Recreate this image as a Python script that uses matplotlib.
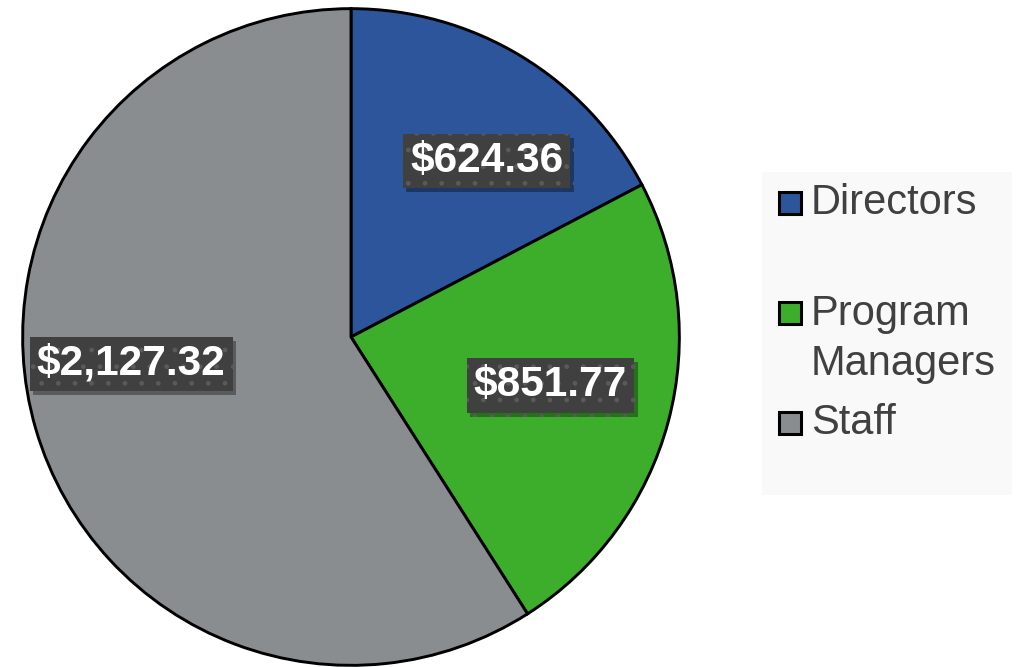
import numpy as np
import matplotlib.pyplot as plt
from matplotlib.patches import Rectangle
import matplotlib.patheffects as pe

# Data
labels = ["Directors", "Program\nManagers", "Staff"]
values = [624.36, 851.77, 2127.32]
colors = ["#2C559B", "#3DAE2B", "#8A8D8F"]

# Plot parameters
W, H = 1025, 667
fontl = 30.5
label_r = [0.68, 0.62, 0.67]      # radial position of value boxes
label_dang = [-6, 2, -10]         # angular nudge (deg) of value boxes

fig = plt.figure(figsize=(W/100, H/100), dpi=100)
fig.patch.set_facecolor("white")
ax = fig.add_axes([21/W, 0.0, 660/W, 660/H])

wedges, _ = ax.pie(values, colors=colors, startangle=90, counterclock=False,
                   radius=0.995,
                   wedgeprops=dict(edgecolor="black", linewidth=2.1))
ax.set_xlim(-1.0, 1.0)
ax.set_ylim(-1.0, 1.0)
ax.set_aspect("equal")
ax.axis("off")

# value labels in dark boxes
for w, v, r, da in zip(wedges, values, label_r, label_dang):
    ang = np.deg2rad(0.5*(w.theta1 + w.theta2) + da)
    t = ax.text(r*np.cos(ang), r*np.sin(ang) - 0.008, "${:,.2f}".format(v),
                ha="center", va="center", fontsize=fontl, fontweight="bold",
                color="white", family=["Liberation Sans", "DejaVu Sans"],
                bbox=dict(boxstyle="square,pad=0.17", facecolor="#404040",
                          edgecolor="#5a5a5a", linewidth=0, hatch="."))
    t.get_bbox_patch().set_path_effects([
        pe.SimplePatchShadow(offset=(2.5, -3), shadow_rgbFace="black", alpha=0.35),
        pe.Normal()])

# legend panel
fig.patches.append(Rectangle((762/W, (H-495)/H), 250/W, 323/H,
                             transform=fig.transFigure, facecolor="#F9F9F9",
                             edgecolor="none", zorder=0))
leg_y = [203, 339, 423]   # text centres (px from top)
mark_y = [203, 313, 423]  # marker centres (px from top)
for lab, c, y, my in zip(labels, colors, leg_y, mark_y):
    fig.patches.append(Rectangle((779/W, (H-my-11)/H), 22/W, 22/H,
                                 transform=fig.transFigure, facecolor=c,
                                 edgecolor="black", linewidth=2.2, zorder=2))
    fig.text(811/W, (H-y)/H, lab, ha="left", va="center",
             fontsize=30, color="#404040", linespacing=1.3,
             family=["Liberation Sans", "DejaVu Sans"])

fig.savefig("out.png", dpi=100)
plt.close(fig)
